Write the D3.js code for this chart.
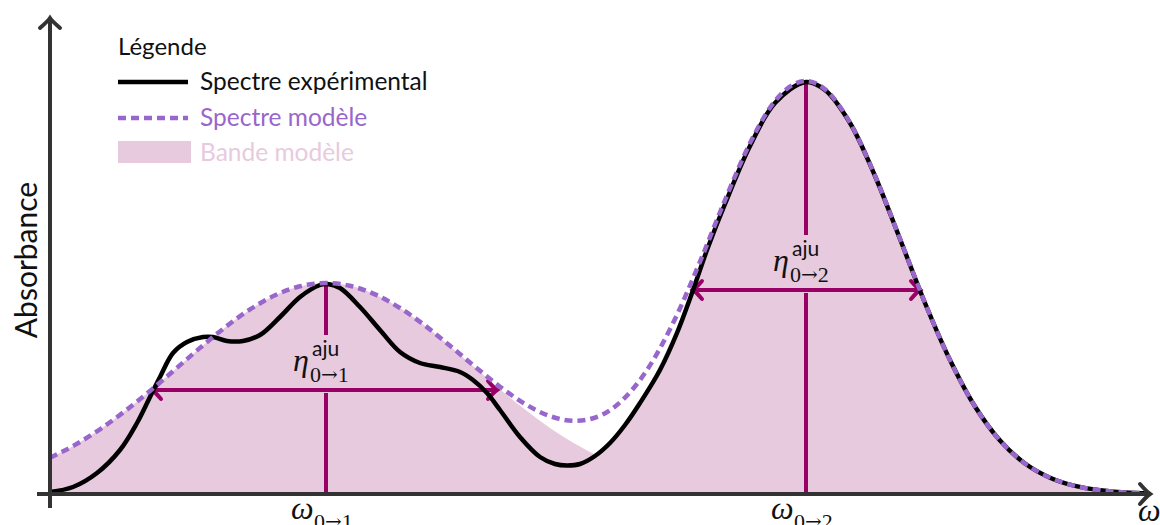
<!DOCTYPE html>
<html lang="fr">
<head>
  <meta charset="UTF-8">
  <title>Spectre d'absorption</title>
  <script src="https://cdn.jsdelivr.net/npm/d3@7"></script>
  <style>
    body { margin: 0; background: #fff; }
    svg { display: block; font-family: Lato, sans-serif; }
  </style>
</head>
<body>
  <svg id="chart"></svg>
<script>
  const width = 1160, height = 525;

  // grille en omega (unités arbitraires) pour les bandes du modèle
  const omegaGrid = [0, 0.25, 0.5, 0.75, 1, 1.25, 1.5, 1.75, 2, 2.25, 2.5, 2.76,
    3, 3.25, 3.5, 3.75, 4, 4.25, 4.5, 4.75, 5, 5.25, 5.5, 5.75, 6, 6.25, 6.5, 6.75, 7, 7.25, 7.56,
    7.75, 8, 8.25, 8.5, 8.75, 9, 9.25, 9.5, 9.75, 10, 10.25, 10.5, 10.75, 11];
  const band1 = [0.362, 0.491, 0.647, 0.829, 1.031, 1.245, 1.461, 1.666, 1.846, 1.987, 2.077, 2.110,
    2.082, 1.996, 1.859, 1.682, 1.478, 1.262, 1.047, 0.844, 0.661, 0.503, 0.371, 0.267, 0.186, 0.126, 0.083, 0.053, 0.033, 0.020, 0.010,
    0.007, 0.004, 0.002, 0.001, 0, 0, 0, 0, 0, 0, 0, 0, 0, 0];
  const band2 = [0, 0, 0, 0, 0, 0, 0, 0, 0, 0, 0, 0,
    0, 0, 0.001, 0.002, 0.004, 0.011, 0.026, 0.057, 0.118, 0.228, 0.412, 0.697, 1.100, 1.624, 2.240, 2.886, 3.476, 3.911, 4.120,
    4.040, 3.709, 3.182, 2.551, 1.911, 1.338, 0.875, 0.535, 0.305, 0.163, 0.081, 0.038, 0.016, 0.007];
  const modelSpectrum = [0.362, 0.491, 0.647, 0.829, 1.031, 1.245, 1.461, 1.666, 1.846, 1.987, 2.077, 2.110,
    2.082, 1.996, 1.860, 1.684, 1.482, 1.273, 1.073, 0.901, 0.779, 0.731, 0.783, 0.964, 1.286, 1.750, 2.323, 2.939, 3.509, 3.931, 4.130,
    4.047, 3.713, 3.184, 2.552, 1.911, 1.338, 0.875, 0.535, 0.305, 0.163, 0.081, 0.038, 0.016, 0.007];

  // spectre expérimental
  const expOmega = [0, 0.23, 0.47, 0.70, 0.87, 1.00, 1.10, 1.23, 1.37, 1.53, 1.63, 1.77, 1.93, 2.10, 2.30, 2.50, 2.70, 2.77,
    2.90, 3.10, 3.30, 3.50, 3.70, 3.90, 4.10, 4.23, 4.37, 4.50, 4.70, 4.90, 5.05, 5.17, 5.30, 5.45, 5.60, 5.75, 5.90,
    6.10, 6.27, 6.42, 6.57, 6.75, 7.0, 7.25, 7.56, 7.75, 8.0, 8.25, 8.5, 8.75, 9.0, 9.25, 9.5, 9.75, 10, 10.25, 10.5, 10.75, 11];
  const expAbs = [0.02, 0.07, 0.21, 0.44, 0.71, 0.97, 1.17, 1.41, 1.52, 1.57, 1.57, 1.53, 1.53, 1.59, 1.77, 1.97, 2.09, 2.10,
    2.06, 1.87, 1.64, 1.42, 1.31, 1.27, 1.22, 1.14, 1.01, 0.84, 0.57, 0.37, 0.30, 0.285, 0.30, 0.38, 0.51, 0.69, 0.91,
    1.24, 1.61, 2.01, 2.44, 2.90, 3.48, 3.91, 4.12, 4.04, 3.71, 3.18, 2.55, 1.91, 1.34, 0.875, 0.535, 0.305, 0.163, 0.081, 0.038, 0.016, 0.007];

  // transitions ajustées
  const transFrom = ['0', '0'];
  const transTo = ['1', '2'];
  const centers = [2.76, 7.56];
  const peakHeights = [2.11, 4.12];
  const halfHeights = [1.04, 2.04];
  const fwhmLeft = [1.02, 6.43];
  const fwhmRight = [4.47, 8.70];

  const legendTitle = 'Légende';
  const legendLabels = ['Spectre expérimental', 'Spectre modèle', 'Bande modèle'];

  const colors = {
    axis: '#333333',
    exp: '#000000',
    model: '#9966cc',
    band: '#e8cade',
    annot: '#990066',
  };

  const mathFont = '"Liberation Serif", "DejaVu Serif", serif';

  const svg = d3.select('#chart')
    .attr('width', width)
    .attr('height', height);

  svg.append('rect').attr('width', width).attr('height', height).attr('fill', '#fff');

  const x = d3.scaleLinear().domain([0, 11]).range([50, 1150]);
  const y = d3.scaleLinear().domain([0, 4.76]).range([494, 18]);

  const gridPts = (vals) => omegaGrid.map((w, i) => [w, vals[i]]);

  const area = d3.area()
    .x(d => x(d[0]))
    .y0(y(0))
    .y1(d => y(d[1]))
    .curve(d3.curveMonotoneX);

  const line = d3.line()
    .x(d => x(d[0]))
    .y(d => y(d[1]))
    .curve(d3.curveMonotoneX);

  const smoothLine = d3.line()
    .x(d => x(d[0]))
    .y(d => y(d[1]))
    .curve(d3.curveCatmullRom.alpha(0.5));

  // indice du type "0→1" : chiffres serif, flèche longue
  const subscript = (g, px, py, a, b) => {
    const t = g.append('text')
      .attr('x', px).attr('y', py)
      .attr('font-family', mathFont)
      .attr('font-size', 22)
      .attr('fill', '#111');
    t.append('tspan').text(a);
    t.append('tspan')
      .attr('font-family', '"DejaVu Serif", serif')
      .attr('font-size', 20)
      .attr('dy', -1)
      .text('→');
    t.append('tspan').attr('dy', 1).text(b);
  };

  // bandes du modèle
  [band1, band2].forEach(b => {
    svg.append('path')
      .attr('d', area(gridPts(b)))
      .attr('fill', colors.band);
  });

  // annotations : centres et largeurs à mi-hauteur
  const arrowHead = (g, px, py, dir) => {
    g.append('path')
      .attr('d', `M${px - dir * 9},${py - 9} Q${px - dir * 3},${py - 2} ${px},${py} Q${px - dir * 3},${py + 2} ${px - dir * 9},${py + 9}`)
      .attr('fill', 'none')
      .attr('stroke', colors.annot)
      .attr('stroke-width', 4)
      .attr('stroke-linecap', 'round');
  };

  centers.forEach((c, i) => {
    const g = svg.append('g');
    const cx = x(c);
    const ay = y(halfHeights[i]);

    g.append('line')
      .attr('x1', cx).attr('x2', cx)
      .attr('y1', y(peakHeights[i])).attr('y2', ay - 55)
      .attr('stroke', colors.annot).attr('stroke-width', 4);
    g.append('line')
      .attr('x1', cx).attr('x2', cx)
      .attr('y1', ay + 3).attr('y2', y(0))
      .attr('stroke', colors.annot).attr('stroke-width', 4);

    g.append('line')
      .attr('x1', x(fwhmLeft[i]) + 1).attr('x2', x(fwhmRight[i]) - 1)
      .attr('y1', ay).attr('y2', ay)
      .attr('stroke', colors.annot).attr('stroke-width', 4);
    arrowHead(g, x(fwhmLeft[i]), ay, -1);
    arrowHead(g, x(fwhmRight[i]), ay, 1);

    g.append('text')
      .attr('x', cx - 14).attr('y', ay - 34)
      .attr('font-size', 21)
      .attr('fill', '#111')
      .text('aju');
    g.append('text')
      .attr('x', cx - 33).attr('y', ay - 19)
      .attr('font-family', mathFont)
      .attr('font-style', 'italic')
      .attr('font-size', 32)
      .attr('fill', '#111')
      .text('η');
    subscript(g, cx - 16, ay - 8, transFrom[i], transTo[i]);
  });

  // spectre expérimental
  svg.append('path')
    .attr('d', smoothLine(expOmega.map((w, i) => [w, expAbs[i]])))
    .attr('fill', 'none')
    .attr('stroke', colors.exp)
    .attr('stroke-width', 4.5)
    .attr('stroke-linejoin', 'round');

  // spectre modèle
  svg.append('path')
    .attr('d', line(gridPts(modelSpectrum)))
    .attr('fill', 'none')
    .attr('stroke', colors.model)
    .attr('stroke-width', 4.5)
    .attr('stroke-dasharray', '8,5');

  // axes
  const axisG = svg.append('g')
    .attr('stroke', colors.axis)
    .attr('stroke-width', 4)
    .attr('fill', 'none')
    .attr('stroke-linecap', 'butt');

  axisG.append('line')
    .attr('x1', 37).attr('x2', x(11))
    .attr('y1', y(0)).attr('y2', y(0));
  axisG.append('line')
    .attr('x1', x(0)).attr('x2', x(0))
    .attr('y1', 508).attr('y2', y(4.76));
  axisG.append('path')
    .attr('stroke-linecap', 'round')
    .attr('d', `M${x(11) - 10},${y(0) - 10} Q${x(11) - 3},${y(0) - 2} ${x(11)},${y(0)} Q${x(11) - 3},${y(0) + 2} ${x(11) - 10},${y(0) + 10}`);
  axisG.append('path')
    .attr('stroke-linecap', 'round')
    .attr('d', `M${x(0) - 10},${y(4.76) + 10} Q${x(0) - 2},${y(4.76) + 3} ${x(0)},${y(4.76)} Q${x(0) + 2},${y(4.76) + 3} ${x(0) + 10},${y(4.76) + 10}`);

  svg.append('text')
    .attr('transform', `translate(37,${(183 + 337) / 2}) rotate(-90)`)
    .attr('text-anchor', 'middle')
    .attr('font-size', 30)
    .attr('fill', '#111')
    .text('Absorbance');

  // étiquettes omega sous l'axe
  centers.forEach((c, i) => {
    const cx = x(c);
    svg.append('text')
      .attr('x', cx - 35).attr('y', 519)
      .attr('font-family', mathFont).attr('font-style', 'italic')
      .attr('font-size', 32).attr('fill', '#111')
      .text('ω');
    subscript(svg, cx - 12, 529, transFrom[i], transTo[i]);
  });
  svg.append('text')
    .attr('x', 1138).attr('y', 521)
    .attr('font-family', mathFont).attr('font-style', 'italic')
    .attr('font-size', 32).attr('fill', '#111')
    .text('ω');

  // légende
  const legend = svg.append('g').attr('transform', 'translate(118,0)');
  legend.append('text')
    .attr('x', 0).attr('y', 55)
    .attr('font-size', 24)
    .attr('fill', '#111')
    .text(legendTitle);

  const rowsY = [82, 118, 153];
  legend.append('line')
    .attr('x1', 0).attr('x2', 70).attr('y1', rowsY[0]).attr('y2', rowsY[0])
    .attr('stroke', colors.exp).attr('stroke-width', 4.5);
  legend.append('line')
    .attr('x1', 0).attr('x2', 70).attr('y1', rowsY[1]).attr('y2', rowsY[1])
    .attr('stroke', colors.model).attr('stroke-width', 4.5)
    .attr('stroke-dasharray', '8,5');
  legend.append('rect')
    .attr('x', 0).attr('y', 141).attr('width', 73).attr('height', 22)
    .attr('fill', colors.band);

  const legendColors = ['#111', colors.model, colors.band];
  legendLabels.forEach((t, i) => {
    legend.append('text')
      .attr('x', 82).attr('y', rowsY[i] + 8)
      .attr('font-size', 24.5)
      .attr('fill', legendColors[i])
      .text(t);
  });
</script>
</body>
</html>
